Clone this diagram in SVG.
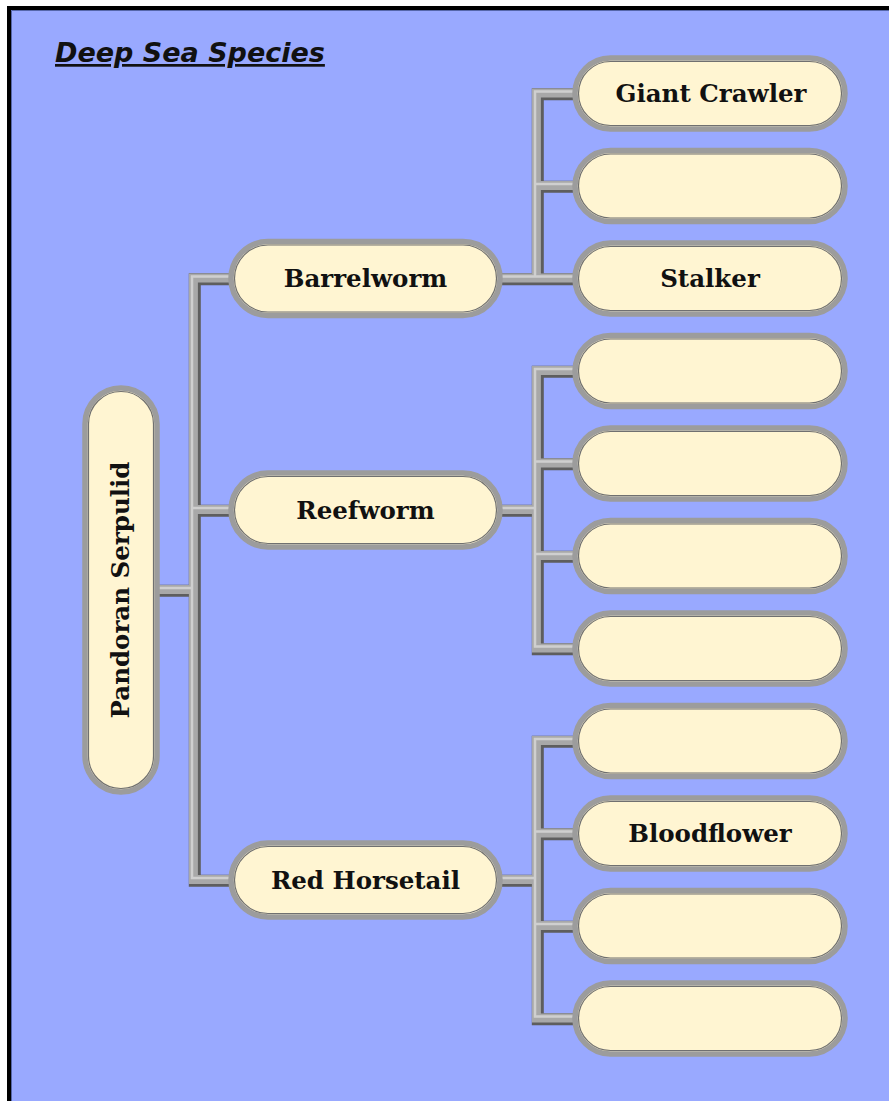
<svg xmlns="http://www.w3.org/2000/svg" xmlns:xlink="http://www.w3.org/1999/xlink" width="889" height="1101" viewBox="0 0 889 1101">
<style>
.bg{fill:#99a9ff;stroke:#000;stroke-width:4}
.pill{fill:#fff5d2;stroke:#9c9c9c;stroke-width:5.5}
.pillin{fill:none;stroke:#707070;stroke-width:1.2}
.lbl{font-family:"DejaVu Serif","Liberation Serif",serif;font-weight:bold;font-size:24.5px;fill:#111;text-anchor:middle}
.title{font-family:"DejaVu Sans","Liberation Sans",sans-serif;font-weight:bold;font-style:italic;font-size:27px;fill:#111}
.c0{fill:none;stroke:#5e5e5e;stroke-width:12;stroke-linejoin:miter}
.c1{fill:none;stroke:#a8a8a8;stroke-width:9;stroke-linejoin:miter}
.c2{fill:none;stroke:#cfcfcf;stroke-width:2.5;stroke-linejoin:miter}
</style>
<defs>
<path id="conn" d="M157,590 H194 M231,278.5 H194 V880 H231 M194,510 H231 M500,278.5 H537 M575,93.5 H537 V278.5 H575 M537,186 H575 M500,510 H537 M575,371 H537 V648.5 H575 M537,463.5 H575 M537,556 H575 M500,880 H537 M575,741 H537 V1018.5 H575 M537,833.5 H575 M537,926 H575"/>
</defs>
<rect x="0" y="0" width="889" height="1101" fill="#ffffff"/>
<rect class="bg" x="9" y="8" width="900" height="1110"/>
<line x1="11.5" y1="10.5" x2="889" y2="10.5" stroke="#5566aa" stroke-width="1"/>
<line x1="11.5" y1="10.5" x2="11.5" y2="1101" stroke="#5566aa" stroke-width="1"/>
<g id="title">
<text class="title" x="55" y="62" text-decoration="underline">Deep Sea Species</text>
</g>
<g id="connectors">
<use xlink:href="#conn" class="c0" transform="translate(0.8,0.8)"/>
<use xlink:href="#conn" class="c1" transform="translate(-0.6,-0.6)"/>
<use xlink:href="#conn" class="c2" transform="translate(-2,-2)"/>
</g>
<g id="root">
<rect class="pill" x="85" y="388" width="72" height="404" rx="36"/>
<rect class="pillin" x="88.5" y="391.5" width="65" height="397" rx="32.5"/>
<text class="lbl" transform="translate(129,590) rotate(-90)" x="0" y="0">Pandoran Serpulid</text>
</g>
<g id="barrelworm">
<rect class="pill" x="231" y="241.5" width="269" height="74" rx="37"/>
<rect class="pillin" x="234.5" y="245" width="262" height="67" rx="33.5"/>
<text class="lbl" x="365.5" y="287">Barrelworm</text>
</g>
<g id="reefworm">
<rect class="pill" x="231" y="473" width="269" height="74" rx="37"/>
<rect class="pillin" x="234.5" y="476.5" width="262" height="67" rx="33.5"/>
<text class="lbl" x="365.5" y="518.5">Reefworm</text>
</g>
<g id="red-horsetail">
<rect class="pill" x="231" y="843" width="269" height="74" rx="37"/>
<rect class="pillin" x="234.5" y="846.5" width="262" height="67" rx="33.5"/>
<text class="lbl" x="365.5" y="888.5">Red Horsetail</text>
</g>
<g id="giant-crawler">
<rect class="pill" x="575" y="58" width="270" height="71" rx="35.5"/>
<rect class="pillin" x="578.5" y="61.5" width="263" height="64" rx="32"/>
<text class="lbl" x="711" y="102">Giant Crawler</text>
</g>
<g id="leaf2">
<rect class="pill" x="575" y="150.5" width="270" height="71" rx="35.5"/>
<rect class="pillin" x="578.5" y="154" width="263" height="64" rx="32"/>
</g>
<g id="stalker">
<rect class="pill" x="575" y="243" width="270" height="71" rx="35.5"/>
<rect class="pillin" x="578.5" y="246.5" width="263" height="64" rx="32"/>
<text class="lbl" x="710" y="287">Stalker</text>
</g>
<g id="leaf4">
<rect class="pill" x="575" y="335.5" width="270" height="71" rx="35.5"/>
<rect class="pillin" x="578.5" y="339" width="263" height="64" rx="32"/>
</g>
<g id="leaf5">
<rect class="pill" x="575" y="428" width="270" height="71" rx="35.5"/>
<rect class="pillin" x="578.5" y="431.5" width="263" height="64" rx="32"/>
</g>
<g id="leaf6">
<rect class="pill" x="575" y="520.5" width="270" height="71" rx="35.5"/>
<rect class="pillin" x="578.5" y="524" width="263" height="64" rx="32"/>
</g>
<g id="leaf7">
<rect class="pill" x="575" y="613" width="270" height="71" rx="35.5"/>
<rect class="pillin" x="578.5" y="616.5" width="263" height="64" rx="32"/>
</g>
<g id="leaf8">
<rect class="pill" x="575" y="705.5" width="270" height="71" rx="35.5"/>
<rect class="pillin" x="578.5" y="709" width="263" height="64" rx="32"/>
</g>
<g id="bloodflower">
<rect class="pill" x="575" y="798" width="270" height="71" rx="35.5"/>
<rect class="pillin" x="578.5" y="801.5" width="263" height="64" rx="32"/>
<text class="lbl" x="710" y="842">Bloodflower</text>
</g>
<g id="leaf10">
<rect class="pill" x="575" y="890.5" width="270" height="71" rx="35.5"/>
<rect class="pillin" x="578.5" y="894" width="263" height="64" rx="32"/>
</g>
<g id="leaf11">
<rect class="pill" x="575" y="983" width="270" height="71" rx="35.5"/>
<rect class="pillin" x="578.5" y="986.5" width="263" height="64" rx="32"/>
</g>
</svg>
